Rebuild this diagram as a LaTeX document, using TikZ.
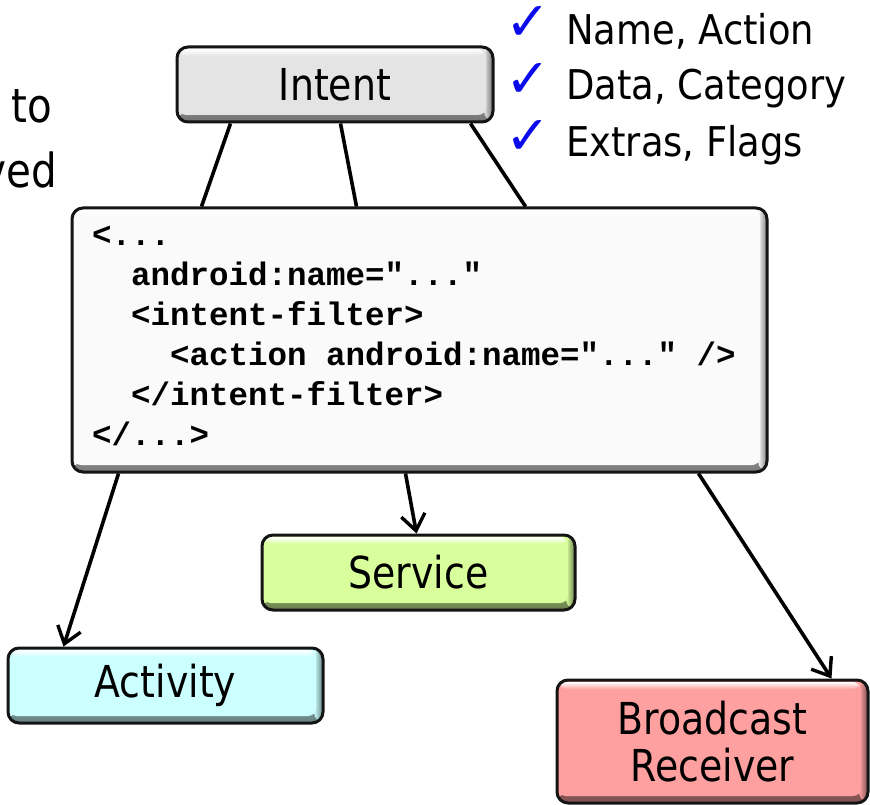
\documentclass[tikz,border=0pt]{standalone}
\usepackage{fontspec}
\setmainfont{DejaVu Sans}[FakeStretch=0.86]
\newfontfamily\listfont{DejaVu Sans}[FakeStretch=0.9]
\newfontfamily\codefont{Liberation Mono}
\newfontfamily\markfont{DejaVu Sans}
\usetikzlibrary{arrows.meta,calc}

\definecolor{edge}{RGB}{20,20,20}
\definecolor{intentfill}{RGB}{228,228,228}
\definecolor{codefill}{RGB}{250,250,250}
\definecolor{actfill}{RGB}{204,255,255}
\definecolor{svcfill}{RGB}{216,255,156}
\definecolor{brfill}{RGB}{255,160,160}
\definecolor{tick}{RGB}{10,10,235}

\tikzset{
  bevelbox/.style={
    fill=#1, draw=edge, line width=3pt, rounded corners=11pt,
    inner sep=0pt, align=center,
    font=\fontsize{44}{47}\selectfont,
    path picture={
      \shade[top color=#1, bottom color=#1!50!black]
        ([yshift=10pt]path picture bounding box.south west)
        rectangle (path picture bounding box.south east);
      \shade[left color=#1, right color=#1!50!black]
        ([xshift=-9pt]path picture bounding box.north east)
        rectangle (path picture bounding box.south east);
      \fill[#1, rounded corners=8pt]
        ([xshift=1pt,yshift=7pt]path picture bounding box.south west)
        rectangle ([xshift=-7pt,yshift=-1pt]path picture bounding box.north east);
      \shade[top color=white, bottom color=#1, rounded corners=6pt]
        ([xshift=3pt,yshift=-2pt]path picture bounding box.north west)
        rectangle ([xshift=-9pt,yshift=-9pt]path picture bounding box.north east);
    }},
  codeline/.style={anchor=base west, inner sep=0pt,
    font=\codefont\bfseries\fontsize{32.5}{40}\selectfont},
  listitem/.style={anchor=base west, inner sep=0pt,
    font=\listfont\fontsize{41}{46}\selectfont},
  checkmark/.style={inner sep=0pt, text=tick,
    font=\markfont\fontsize{54}{58}\selectfont},
  sidetext/.style={anchor=base east, inner sep=0pt,
    font=\fontsize{47}{50}\selectfont},
  link/.style={draw=black, line width=3.6pt},
  flow/.style={link, -{Straight Barb[length=16pt,width=24pt,line width=3.4pt]}},
}

\begin{document}
\begin{tikzpicture}[x=1pt, y=-1pt]
  \useasboundingbox (0,0) rectangle (870,805);

  % text running in from the left margin
  \node[sidetext] (sideA) at (52,123) {to};
  \node[sidetext] (sideB) at (57,188) {ved};

  % the intent and what it carries
  \node[bevelbox=intentfill, minimum width=316pt, minimum height=75pt]
    (intent) at (335,84.5) {Intent};

  \node[checkmark] (ck1) at (528,23) {✓};
  \node[checkmark] (ck2) at (528,80) {✓};
  \node[checkmark] (ck3) at (528,137) {✓};
  \node[listitem] (it1) at (566,45) {Name, Action};
  \node[listitem] (it2) at (566,100) {Data, Category};
  \node[listitem] (it3) at (566,157) {Extras, Flags};

  % manifest declaration with its intent filter
  \node[bevelbox=codefill, minimum width=695pt, minimum height=264pt]
    (filter) at (419.5,340) {};
  \node[codeline] (c1) at (92,245) {<...};
  \node[codeline] (c2) at (131,285) {android:name="..."};
  \node[codeline] (c3) at (131,325) {<intent-filter>};
  \node[codeline] (c4) at (170,365) {<action android:name="..." />};
  \node[codeline] (c5) at (131,405) {</intent-filter>};
  \node[codeline] (c6) at (92,445) {</...>};

  % the three kinds of receiving component
  \node[bevelbox=actfill, minimum width=315pt, minimum height=75pt]
    (activity) at (165.5,685.5) {Activity};
  \node[bevelbox=svcfill, minimum width=313pt, minimum height=75pt]
    (service) at (418.5,572.5) {Service};
  \node[bevelbox=brfill, minimum width=311pt, minimum height=123pt]
    (receiver) at (712.5,741.5) {Broadcast\\Receiver};

  % intent matched against the filter
  \draw[link] ($(intent.south west)+(55,0)$) -- ($(filter.north west)+(131,0)$);
  \draw[link] ($(intent.south west)+(165,0)$) -- ($(filter.north west)+(286,0)$);
  \draw[link] ($(intent.south west)+(295,0)$) -- ($(filter.north west)+(455,0)$);

  % delivery to the components
  \draw[flow] ($(filter.south west)+(48,0)$) -- ($(activity.north west)+(57,0)$);
  \draw[flow] ($(filter.south west)+(335,0)$) -- ($(service.north west)+(156,0)$);
  \draw[flow] ($(filter.south west)+(628,0)$) -- ($(receiver.north west)+(276,0)$);
\end{tikzpicture}
\end{document}
